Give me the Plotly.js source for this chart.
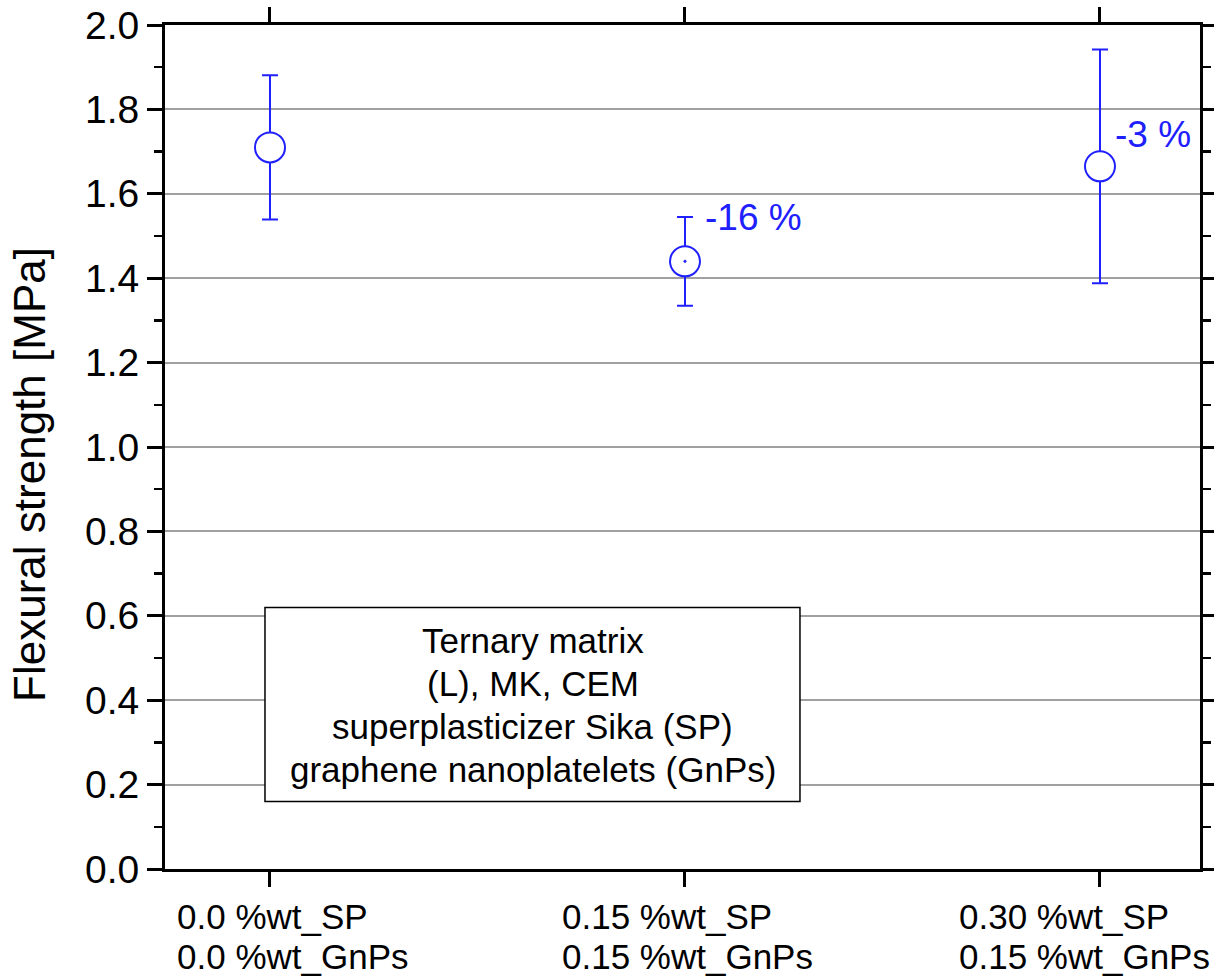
<!DOCTYPE html>
<html>
<head>
<meta charset="utf-8">
<script src="https://cdn.plot.ly/plotly-3.0.1.min.js"></script>
<style>html,body{margin:0;padding:0;background:#fff;}#chart{width:1214px;height:980px;}</style>
</head>
<body>
<div id="chart"></div>
<script>
// ---- data ----
const spLabels = ['0.0 %wt_SP', '0.15 %wt_SP', '0.30 %wt_SP'];
const gnpLabels = ['0.0 %wt_GnPs', '0.15 %wt_GnPs', '0.15 %wt_GnPs'];
const strength = [1.71, 1.44, 1.665];
const strengthErr = [0.171, 0.105, 0.277];
const changeLabels = ['', '-16 %', '-3 %'];
const yTickVals = [0.0, 0.2, 0.4, 0.6, 0.8, 1.0, 1.2, 1.4, 1.6, 1.8, 2.0];
const boxLines = ['Ternary matrix', '(L), MK, CEM', 'superplasticizer Sika (SP)', 'graphene nanoplatelets (GnPs)'];
const yTitle = 'Flexural strength [MPa]';

// ---- styles / layout helpers ----
const FONT = 'Arial, "Liberation Sans", sans-serif';
const BLUE = '#2020ff';
const xIdx = strength.map((_, i) => i);

const trace = {
  type: 'scatter',
  mode: 'markers',
  x: xIdx,
  y: strength,
  error_y: { type: 'data', array: strengthErr, visible: true, color: BLUE, thickness: 2, width: 8 },
  marker: {
    symbol: ['circle', 'circle-dot', 'circle'],
    size: 30,
    color: 'white',
    line: { color: BLUE, width: 2 }
  },
  hoverinfo: 'skip',
  showlegend: false
};

const annotations = [];
// category labels: two left-aligned lines per category
const labelLeftShift = [-95, -125, -143];
const labelLineY = [-0.0568, -0.1036];
xIdx.forEach((i) => {
  [spLabels[i], gnpLabels[i]].forEach((t, k) => {
    annotations.push({
      x: i, xref: 'x', y: labelLineY[k], yref: 'paper',
      xanchor: 'left', yanchor: 'middle', align: 'left',
      xshift: labelLeftShift[i],
      text: t, showarrow: false,
      font: { family: FONT, size: 35, color: '#000' }
    });
  });
});
// percentage change labels
const chgShift = [[0, 0], [18, 44], [13, 32]];
changeLabels.forEach((t, i) => {
  if (!t) return;
  annotations.push({
    x: i, xref: 'x', y: strength[i], yref: 'y',
    xanchor: 'left', yanchor: 'middle',
    xshift: chgShift[i][0], yshift: chgShift[i][1],
    text: t, showarrow: false,
    font: { family: FONT, size: 37, color: BLUE }
  });
});
// info box text lines
const boxLineY = [0.2712, 0.2203, 0.1693, 0.1184];
boxLines.forEach((t, k) => {
  annotations.push({
    x: 0.3551, xref: 'paper', y: boxLineY[k], yref: 'paper',
    xanchor: 'center', yanchor: 'middle',
    text: t, showarrow: false,
    font: { family: FONT, size: 35, color: '#000' }
  });
});
// y axis title
annotations.push({
  x: -0.1304, xref: 'paper', y: 0.467, yref: 'paper',
  xanchor: 'center', yanchor: 'middle',
  text: yTitle, textangle: -90, showarrow: false,
  font: { family: FONT, size: 44, color: '#000' }
});

const layout = {
  width: 1214, height: 980,
  margin: { l: 165, r: 14, t: 25, b: 110.5, pad: 0 },
  paper_bgcolor: 'white', plot_bgcolor: 'white',
  font: { family: FONT, color: '#000' },
  xaxis: {
    type: 'linear',
    range: [-0.253, 2.241],
    tickvals: xIdx,
    showticklabels: false,
    ticks: 'outside', ticklen: 15, tickwidth: 3, tickcolor: '#000',
    showline: true, linecolor: '#000', linewidth: 3, mirror: 'ticks',
    showgrid: false, zeroline: false, fixedrange: true
  },
  yaxis: {
    range: [0, 2],
    tickvals: yTickVals,
    tickformat: '.1f',
    ticks: 'outside', ticklen: 15, tickwidth: 3, tickcolor: '#000',
    minor: { dtick: 0.1, ticks: 'outside', ticklen: 8, tickwidth: 2.5, tickcolor: '#000', showgrid: false },
    tickfont: { family: FONT, size: 39, color: '#000' },
    showline: true, linecolor: '#000', linewidth: 3, mirror: 'ticks',
    showgrid: true, gridcolor: '#a0a0a0', gridwidth: 2,
    zeroline: false, fixedrange: true
  },
  shapes: [{
    type: 'rect', xref: 'paper', yref: 'paper',
    x0: 0.0966, x1: 0.6135, y0: 0.0799, y1: 0.3097,
    fillcolor: 'white', line: { color: '#000', width: 1.5 }, layer: 'above'
  }],
  annotations: annotations
};

Plotly.newPlot('chart', [trace], layout, { staticPlot: true, displayModeBar: false });
</script>
</body>
</html>
